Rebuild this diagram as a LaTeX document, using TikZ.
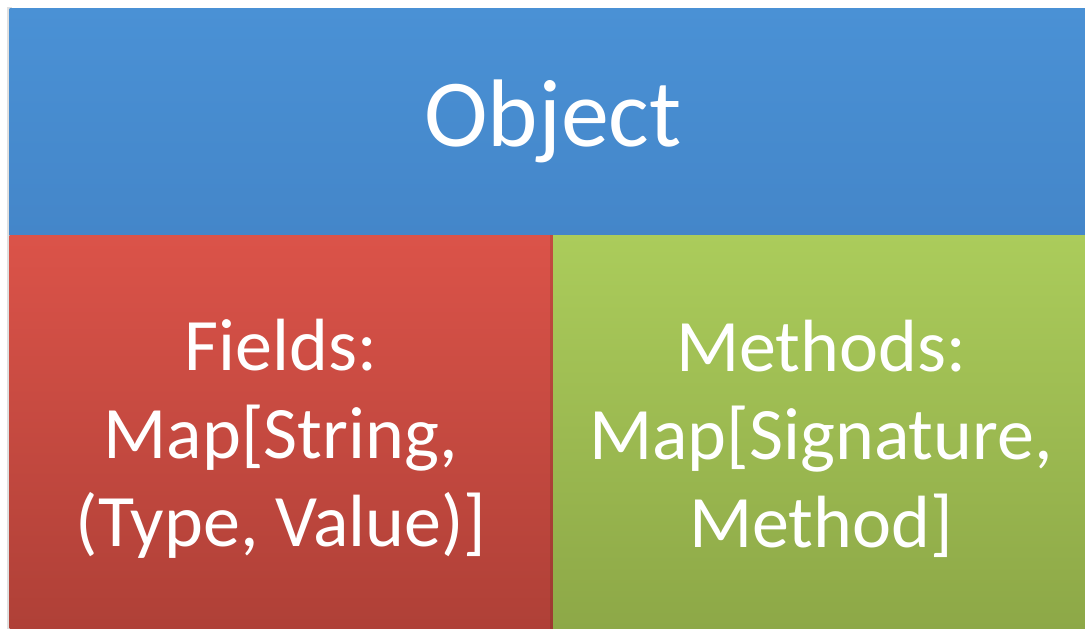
\documentclass[tikz,border=0pt]{standalone}
\usepackage{fontspec}
\setmainfont{Carlito}
\definecolor{bluetop}{RGB}{74,145,213}
\definecolor{bluebot}{RGB}{68,134,201}
\definecolor{redtop}{RGB}{219,83,73}
\definecolor{redbot}{RGB}{175,64,55}
\definecolor{greentop}{RGB}{171,204,91}
\definecolor{greenbot}{RGB}{141,168,71}
\tikzset{
  panel/.style={draw=none},
  label/.style={text=white, align=center, inner sep=0pt},
  shadowbox/.style={fill=black, opacity=0.12}
}
\begin{document}
\begin{tikzpicture}[x=1pt,y=-1pt]
\useasboundingbox (0,0) rectangle (1085,629);
% shadows
\fill[shadowbox] (6.5,7) rectangle (12,629);
\fill[shadowbox] (550,235) rectangle (556,629);
% panels
\shade[panel, top color=bluetop, bottom color=bluebot] (9.5,8) rectangle (1085,235);
\shade[panel, top color=redtop, bottom color=redbot] (9.5,235) rectangle (553,629);
\fill[black, opacity=0.10] (549.5,235) rectangle (553,629);
\shade[panel, top color=greentop, bottom color=greenbot] (553,235) rectangle (1085,629);
\node[coordinate] (objc) at (553,121) {};
\node[label, font=\fontsize{96}{110}\selectfont] (obj) at (objc) {Object};
\node[label, font=\fontsize{74}{88}\selectfont] (fields) at (281,439) {Fields:\\Map[String,\\(Type, Value)]};
\node[label, font=\fontsize{74}{88}\selectfont] (methods) at (821,439) {Methods:\\Map[Signature,\\Method]};
\end{tikzpicture}
\end{document}
